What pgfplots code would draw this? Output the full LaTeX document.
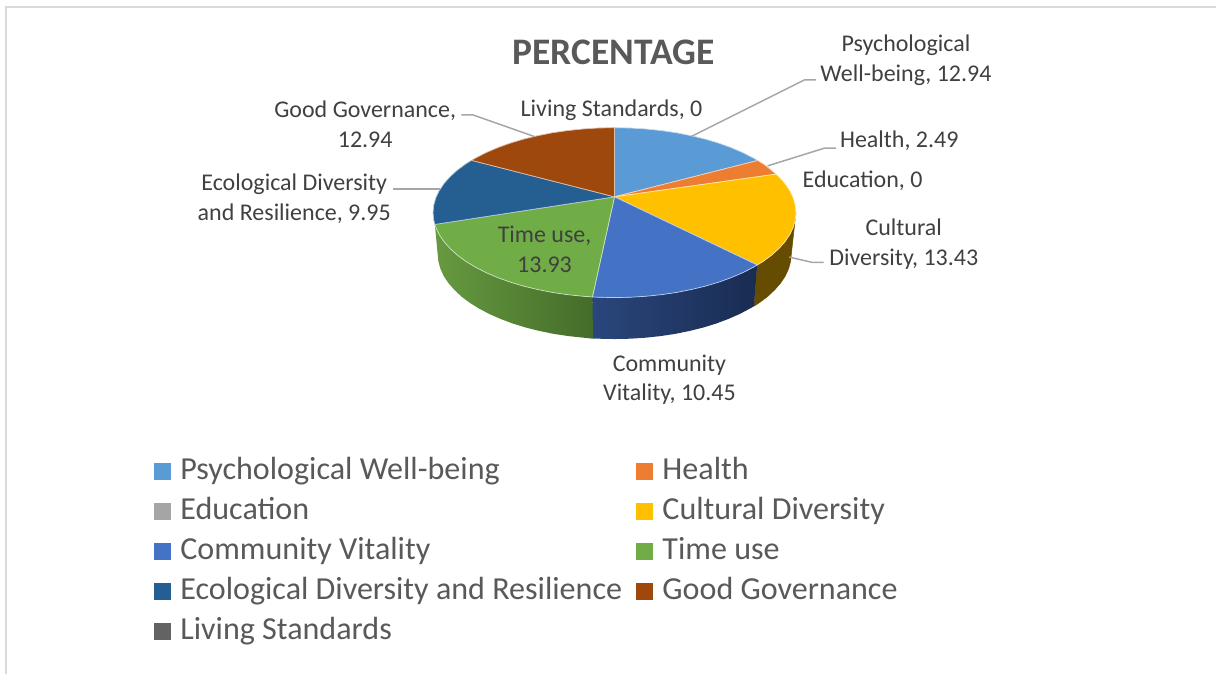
\documentclass[border=0pt]{standalone}
\usepackage{fontspec}
\setmainfont{Carlito}
\usepackage{pgfplots}
\pgfplotsset{compat=1.18}
\definecolor{cPsy}{HTML}{5B9BD5}
\definecolor{cHea}{HTML}{ED7D31}
\definecolor{cEdu}{HTML}{A5A5A5}
\definecolor{cCul}{HTML}{FFC000}
\definecolor{cCom}{HTML}{4472C4}
\definecolor{cTim}{HTML}{70AD47}
\definecolor{cEco}{HTML}{255E91}
\definecolor{cGoo}{HTML}{9E480E}
\definecolor{cLiv}{HTML}{636363}
\definecolor{cTxt}{HTML}{404040}
\definecolor{cHead}{HTML}{595959}
\definecolor{cLead}{HTML}{A6A6A6}
\definecolor{cFrame}{HTML}{D9D9D9}
\definecolor{s0}{HTML}{664C00}
\definecolor{s1}{HTML}{192C52}
\definecolor{s3}{HTML}{1C3059}
\definecolor{s6}{HTML}{2A467C}
\definecolor{g1}{HTML}{456C2A}
\definecolor{g4}{HTML}{568536}
\definecolor{g7}{HTML}{669A40}
\pgfplotsset{
  side/.style={forget plot,fill=#1,draw=#1,line width=0.5pt,line join=round},
  top/.style={fill=#1,draw=white!65!#1,line width=0.7pt,line join=round},
  lead/.style={forget plot,color=cLead,line width=1.5pt,no markers},
}
\newcommand{\lab}[3]{\node[text=cTxt,align=center,inner sep=0pt,font=\fontsize{24}{30}\selectfont] at (axis cs:#1,#2) {#3};}
\begin{document}
\begin{tikzpicture}
\begin{axis}[
  scale only axis,width=1217pt,height=675pt,
  xmin=0,xmax=1217,ymin=0,ymax=675,y dir=reverse,
  hide axis,clip=false,
  legend columns=2,
  legend cell align=left,
  legend style={at={(0.1265,0.3222)},anchor=north west,draw=none,fill=none,inner sep=0pt,
    font=\fontsize{32.1}{30}\selectfont,text=cHead,
    /tikz/every even column/.append style={column sep=14pt},
    row sep=10pt,
    nodes={text height=22pt,text depth=8pt,inner sep=0pt,anchor=base west}},
  legend image code/.code={\fill[#1,draw=none] (0pt,-1pt) rectangle (17pt,16pt);\path (26pt,0pt);},
]
\addplot[forget plot,draw=none] coordinates {(0,0)(1217,675)};
\addplot[forget plot,color=cFrame,line width=2pt] coordinates {(1217,7)(6.5,7)(6.5,675)};
% side faces
\addplot[side=s0] coordinates {(796.6,212.8)(795.9,220.2)(793.8,227.6)(790.4,234.8)(785.6,241.9)(779.6,248.7)(772.3,255.3)(763.8,261.6)(757.8,265.2)(754.5,306.5)(760,302.9)(768.3,296.7)(775.4,290)(781.3,283.2)(786,276.1)(789.3,268.8)(791.3,261.4)(792,254)} --cycle;
\addplot[forget plot,draw=none,left color=s6,middle color=s3,right color=s1] coordinates {(757.8,265.2)(754.1,267.4)(743.4,272.9)(731.7,277.9)(719.2,282.4)(705.8,286.4)(691.7,289.8)(677.1,292.7)(662,294.9)(646.5,296.5)(630.8,297.5)(615,297.8)(599.2,297.5)(592.9,297.2)(593.5,339)(599.6,339)(615,339.3)(630.4,339)(645.7,338)(660.8,336.4)(675.5,334.2)(689.8,331.3)(703.5,327.9)(716.5,323.9)(728.8,319.3)(740.2,314.3)(750.6,308.8)(754.5,306.5)} --cycle;
\addplot[forget plot,draw=none,left color=g7,middle color=g4,right color=g1] coordinates {(592.9,297.2)(583.5,296.5)(568,294.9)(552.9,292.7)(538.3,289.8)(524.2,286.4)(510.8,282.4)(498.3,277.9)(486.6,272.9)(475.9,267.4)(466.2,261.6)(457.7,255.3)(450.4,248.7)(444.4,241.9)(439.6,234.8)(436.2,227.6)(435.2,224.6)(438,254)(438.7,261.4)(440.7,268.8)(444,276.1)(448.7,283.2)(454.6,290)(461.7,296.7)(470,302.9)(479.4,308.8)(489.8,314.3)(501.2,319.3)(513.5,323.9)(526.5,327.9)(540.2,331.3)(554.5,334.2)(569.2,336.4)(584.3,338)(593.5,339)} --cycle;
% top faces
\addplot[top=cPsy] coordinates {(615,197)(615,127.8)(630.8,128.1)(646.5,129.1)(662,130.7)(677.1,132.9)(691.7,135.8)(705.8,139.2)(719.2,143.2)(731.7,147.7)(743.4,152.7)(754.1,158.2)(758.3,160.6)} --cycle;
\addlegendentry{Psychological Well-being}
\addplot[top=cHea] coordinates {(615,197)(758.3,160.6)(763.8,164)(767.3,166.5)(776.7,174.3)} --cycle;
\addlegendentry{Health}
\addplot[fill=cEdu,draw=none] coordinates {(615,197)(615,197)};
\addlegendentry{Education}
\addplot[top=cCul] coordinates {(615,197)(776.7,174.3)(779.6,176.9)(785.6,183.7)(790.4,190.8)(793.8,198)(795.9,205.4)(796.6,212.8)(795.9,220.2)(793.8,227.6)(790.4,234.8)(785.6,241.9)(779.6,248.7)(772.3,255.3)(763.8,261.6)(757.8,265.2)} --cycle;
\addlegendentry{Cultural Diversity}
\addplot[top=cCom] coordinates {(615,197)(757.8,265.2)(754.1,267.4)(743.4,272.9)(731.7,277.9)(719.2,282.4)(705.8,286.4)(691.7,289.8)(677.1,292.7)(662,294.9)(646.5,296.5)(630.8,297.5)(615,297.8)(599.2,297.5)(592.9,297.2)} --cycle;
\addlegendentry{Community Vitality}
\addplot[top=cTim] coordinates {(615,197)(592.9,297.2)(583.5,296.5)(568,294.9)(552.9,292.7)(538.3,289.8)(524.2,286.4)(510.8,282.4)(498.3,277.9)(486.6,272.9)(475.9,267.4)(466.2,261.6)(457.7,255.3)(450.4,248.7)(444.4,241.9)(439.6,234.8)(436.2,227.6)(435.2,224.6)} --cycle;
\addlegendentry{Time use}
\addplot[top=cEco] coordinates {(615,197)(435.2,224.6)(434.1,220.2)(433.4,212.8)(434.1,205.4)(436.2,198)(439.6,190.8)(444.4,183.7)(450.4,176.9)(457.7,170.3)(466.2,164)(471.9,160.5)} --cycle;
\addlegendentry{Ecological Diversity and Resilience}
\addplot[top=cGoo] coordinates {(615,197)(471.9,160.5)(475.9,158.2)(486.6,152.7)(498.3,147.7)(510.8,143.2)(524.2,139.2)(538.3,135.8)(552.9,132.9)(568,130.7)(583.5,129.1)(599.2,128.1)(615,127.8)} --cycle;
\addlegendentry{Good Governance}
\addplot[fill=cLiv,draw=none] coordinates {(615,197)(615,197)};
\addlegendentry{Living Standards}
% leader lines
\addplot[lead] coordinates {(691.7,136.7)(805,80)(816.7,80)};
\addplot[lead] coordinates {(768.3,166)(825,148.3)(836.7,148.3)};
\addplot[lead] coordinates {(790,257.3)(813.3,262.7)(824.3,262.7)};
\addplot[lead] coordinates {(461.7,115)(473.3,115)(535,136.7)};
\addplot[lead] coordinates {(393.3,189.3)(440,189.3)};
% labels
\node[text=cHead,inner sep=0pt,font=\fontsize{37.5}{40}\selectfont\bfseries] at (axis cs:614,52) {PERCENTAGE};
\lab{906.7}{60.5}{Psychological\\Well-being, 12.94}
\lab{900}{141}{Health, 2.49}
\lab{863.3}{181}{Education, 0}
\lab{904.5}{244}{Cultural\\Diversity, 13.43}
\lab{670}{380}{Community\\Vitality, 10.45}
\lab{545}{250}{Time use,\\13.93}
\lab{612}{110}{Living Standards, 0}
\lab{365.5}{124.5}{Good Governance,\\12.94}
\lab{294.5}{198.5}{Ecological Diversity\\and Resilience, 9.95}
\end{axis}
\end{tikzpicture}
\end{document}
